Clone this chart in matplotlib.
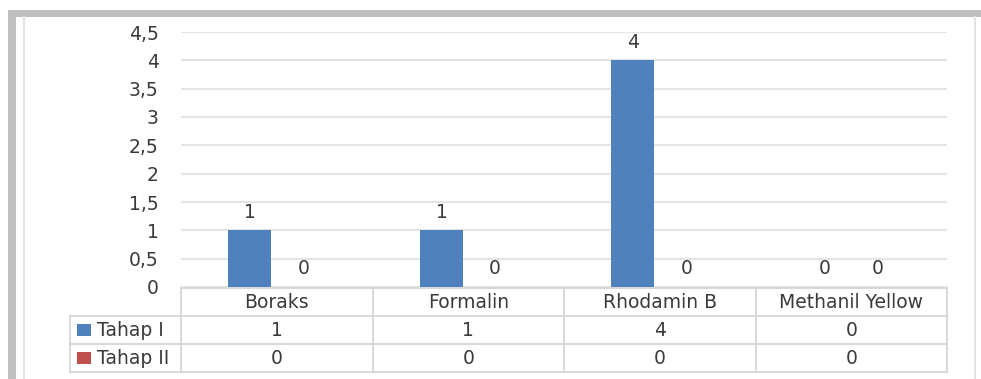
import matplotlib
matplotlib.use("Agg")
import matplotlib.pyplot as plt
from matplotlib.patches import Rectangle
from matplotlib.lines import Line2D

categories = ["Boraks", "Formalin", "Rhodamin B", "Methanil Yellow"]
series_names = ["Tahap I", "Tahap II"]
tahap1 = [1, 1, 4, 0]
tahap2 = [0, 0, 0, 0]
yticks = [0, 0.5, 1, 1.5, 2, 2.5, 3, 3.5, 4, 4.5]
ytick_labels = ["0", "0,5", "1", "1,5", "2", "2,5", "3", "3,5", "4", "4,5"]

colors = ["#4F81BD", "#C0504D"]
text_color = "#3A3A3A"
grid_color = "#E4E4E4"
FS = 13.5
plt.rcParams["font.family"] = ["DejaVu Sans"]

W, H = 981, 379
fig = plt.figure(figsize=(W / 100, H / 100), dpi=100)

def fx(px):
    return px / W

def fy(py):
    return 1 - py / H

# outer frame decorations
fig.patches.append(Rectangle((fx(8), fy(17)), fx(981 - 8), 7 / H, transform=fig.transFigure,
                             facecolor="#BFBFBF", edgecolor="none"))
fig.patches.append(Rectangle((fx(8), 0), fx(8), fy(10), transform=fig.transFigure,
                             facecolor="#BFBFBF", edgecolor="none"))
fig.lines.append(Line2D([fx(24), fx(24)], [0, fy(17)], transform=fig.transFigure,
                        color="#E3E3E3", lw=1.5))
fig.lines.append(Line2D([fx(975), fx(975)], [0, fy(17)], transform=fig.transFigure,
                        color="#E3E3E3", lw=1.5))

# main axes
L, R, T, B = 181, 947, 32, 287
ax = fig.add_axes([fx(L), fy(B), fx(R - L), (B - T) / H])
n = len(categories)
xs = list(range(n))
bw = 0.225
off = 0.14
for i, (vals, c) in enumerate(zip([tahap1, tahap2], colors)):
    pos = [x + (-off if i == 0 else off) for x in xs]
    ax.bar(pos, vals, width=bw, color=c, zorder=3)
    for p, v in zip(pos, vals):
        ax.annotate(f"{v}", (p, v), xytext=(0, 18), textcoords="offset pixels",
                    ha="center", va="center", fontsize=FS, color=text_color)
ax.set_xlim(-0.5, n - 0.5)
ax.set_ylim(0, 4.5)
ax.set_yticks(yticks)
ax.set_yticklabels(ytick_labels, fontsize=FS, color=text_color)
ax.tick_params(axis="y", length=0, pad=16)
ax.set_xticks([])
for s in ax.spines.values():
    s.set_visible(False)
ax.yaxis.grid(True, color=grid_color, lw=1.5, zorder=0)
ax.set_axisbelow(True)

# data table
TL, TT, TB = 70, 288, 372
units_per_px = 1 / ((R - L) / n)
x_left = -0.5 - (L - TL) * units_per_px
tax = fig.add_axes([fx(TL), fy(TB), fx(R - TL), (TB - TT) / H])
tax.set_xlim(x_left, n - 0.5)
tax.set_ylim(3, 0)
tax.axis("off")
lc = "#D6D6D6"
lw = 1.3
tax.plot([-0.5, n - 0.5], [0, 0], color=lc, lw=lw, clip_on=False)
for r in [1, 2, 3]:
    tax.plot([x_left, n - 0.5], [r, r], color=lc, lw=lw, clip_on=False)
tax.plot([x_left, x_left], [1, 3], color=lc, lw=lw, clip_on=False)
for k in range(n + 1):
    tax.plot([k - 0.5, k - 0.5], [0, 3], color=lc, lw=lw, clip_on=False)
for x, cat in zip(xs, categories):
    tax.text(x, 0.52, cat, ha="center", va="center", fontsize=FS, color=text_color)
for r, (name, vals, c) in enumerate(zip(series_names, [tahap1, tahap2], colors), start=1):
    kx = x_left + 7 * units_per_px
    tax.add_patch(Rectangle((kx, r + 0.3), 14 * units_per_px, 0.4, facecolor=c, edgecolor="none"))
    tax.text(x_left + 27 * units_per_px, r + 0.52, name, ha="left", va="center",
             fontsize=FS, color=text_color)
    for x, v in zip(xs, vals):
        tax.text(x, r + 0.52, f"{v}", ha="center", va="center", fontsize=FS, color=text_color)

fig.savefig("out.png", dpi=100)
